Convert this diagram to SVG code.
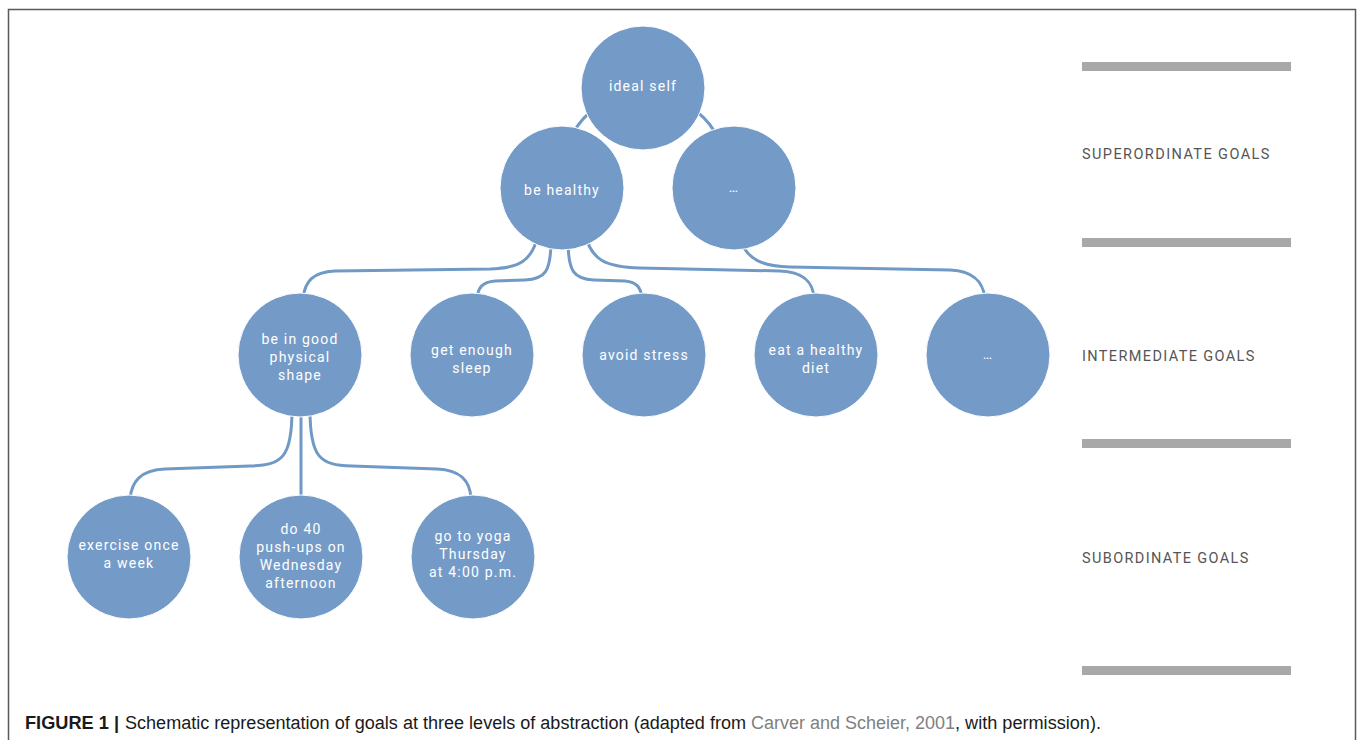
<svg xmlns="http://www.w3.org/2000/svg" width="1358" height="740" viewBox="0 0 1358 740">
<style>
.node{fill:#749BC7;stroke:#ffffff;stroke-width:1}
.conn{fill:none;stroke:#7099C6;stroke-width:3;stroke-linecap:round}
.lbl{fill:#ffffff;font-family:Roboto,"DejaVu Sans",sans-serif;font-size:14px;letter-spacing:1.2px;text-anchor:middle}
.lvl{fill:#555555;font-family:Roboto,"DejaVu Sans",sans-serif;font-size:14.5px;letter-spacing:1.6px}
.bar{fill:#A8A8A8}
.cap{font-family:"Liberation Sans",Arial,sans-serif;font-size:18px}
</style>
<rect x="0" y="0" width="1358" height="740" fill="#ffffff"/>
<path d="M8.5,740 V9.5 H1355.5 V740" fill="none" stroke="#5a5a5a" stroke-width="1.5"/>

<g id="connectors">
<path class="conn" d="M612,100 Q578,112 566,150"/>
<path class="conn" d="M674,100 Q708,110 724,150"/>
<path class="conn" d="M538,235 C532,262 518,268 490,269 L335,271 C312,272 305,282 303,298"/>
<path class="conn" d="M551,240 C551,272 545,279 525,280 L495,281 C482,282 478,288 477,298"/>
<path class="conn" d="M568,240 C568,272 574,279 594,280 L625,281 C637,282 641,288 642,298"/>
<path class="conn" d="M585,235 C592,260 605,267 640,268 L780,271 C805,272 813,283 814,298"/>
<path class="conn" d="M740,240 C748,260 762,266 790,267 L950,270 C975,271 983,283 985,298"/>
<path class="conn" d="M292,410 C292,458 282,465 250,466 L165,469 C140,470 132,482 130,498"/>
<path class="conn" d="M301,410 L301,498"/>
<path class="conn" d="M310,410 C310,458 320,465 352,466 L437,469 C462,470 470,482 471,498"/>
</g>

<g id="n-ideal-self"><circle class="node" cx="643" cy="88" r="62"/><text class="lbl" x="643" y="91">ideal self</text></g>
<g id="n-be-healthy"><circle class="node" cx="562" cy="188" r="62"/><text class="lbl" x="562" y="195">be healthy</text></g>
<g id="n-super-etc"><circle class="node" cx="734" cy="188" r="62"/><text class="lbl" x="734" y="192">…</text></g>

<g id="n-physical"><circle class="node" cx="300" cy="355" r="62"/><text class="lbl" x="300" y="344">be in good</text><text class="lbl" x="300" y="362">physical</text><text class="lbl" x="300" y="380">shape</text></g>
<g id="n-sleep"><circle class="node" cx="472" cy="355" r="62"/><text class="lbl" x="472" y="355">get enough</text><text class="lbl" x="472" y="373">sleep</text></g>
<g id="n-stress"><circle class="node" cx="644" cy="355" r="62"/><text class="lbl" x="644" y="360">avoid stress</text></g>
<g id="n-diet"><circle class="node" cx="816" cy="355" r="62"/><text class="lbl" x="816" y="355">eat a healthy</text><text class="lbl" x="816" y="373">diet</text></g>
<g id="n-inter-etc"><circle class="node" cx="988" cy="355" r="62"/><text class="lbl" x="988" y="359">…</text></g>

<g id="n-exercise"><circle class="node" cx="129" cy="557" r="62"/><text class="lbl" x="129" y="550">exercise once</text><text class="lbl" x="129" y="568">a week</text></g>
<g id="n-pushups"><circle class="node" cx="301" cy="557" r="62"/><text class="lbl" x="301" y="534">do 40</text><text class="lbl" x="301" y="552">push-ups on</text><text class="lbl" x="301" y="570">Wednesday</text><text class="lbl" x="301" y="588">afternoon</text></g>
<g id="n-yoga"><circle class="node" cx="473" cy="557" r="62"/><text class="lbl" x="473" y="541">go to yoga</text><text class="lbl" x="473" y="559">Thursday</text><text class="lbl" x="473" y="577">at 4:00 p.m.</text></g>

<g id="levels">
<rect class="bar" x="1082" y="62" width="209" height="9"/>
<rect class="bar" x="1082" y="238" width="209" height="9"/>
<rect class="bar" x="1082" y="439" width="209" height="9"/>
<rect class="bar" x="1082" y="666" width="209" height="9"/>
<text class="lvl" x="1082" y="159" textLength="189">SUPERORDINATE GOALS</text>
<text class="lvl" x="1082" y="361" textLength="174">INTERMEDIATE GOALS</text>
<text class="lvl" x="1082" y="563" textLength="168">SUBORDINATE GOALS</text>
</g>

<g id="caption">
<text class="cap" x="25" y="729" font-weight="bold" fill="#1a1a1a" textLength="94" lengthAdjust="spacingAndGlyphs">FIGURE 1 |</text>
<text class="cap" x="125" y="729" fill="#1a1a1a" textLength="621" lengthAdjust="spacingAndGlyphs">Schematic representation of goals at three levels of abstraction (adapted from</text>
<text class="cap" x="751" y="729" fill="#808080" textLength="204" lengthAdjust="spacingAndGlyphs">Carver and Scheier, 2001</text>
<text class="cap" x="955" y="729" fill="#1a1a1a" textLength="146" lengthAdjust="spacingAndGlyphs">, with permission).</text>
</g>
</svg>
